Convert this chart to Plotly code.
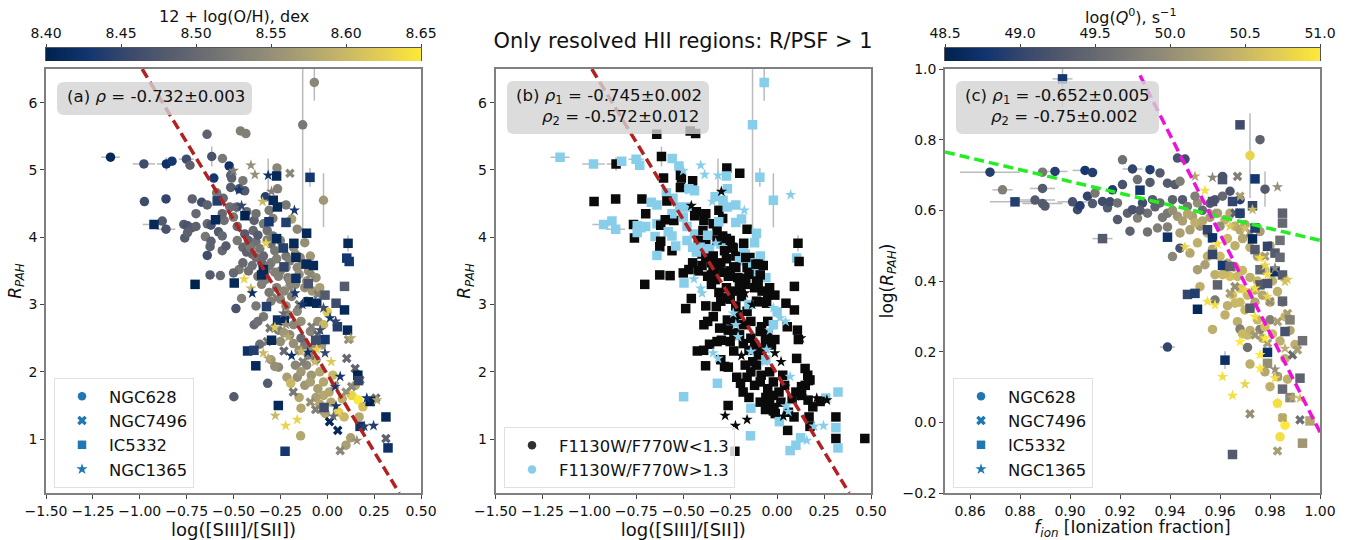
import numpy as np
import plotly.graph_objects as go

# ---------- panels (a) and (b): log([SIII]/[SII]) vs R_PAH ----------
n628_x = [-1.156,-0.978,-0.858,-0.828,-0.751,-0.732,-0.641,-0.616,-0.559,-0.523,-0.463,-0.434,-0.069,-0.131,-0.020,-0.268,
          -0.605,-0.515,-0.510,-0.450,-0.515,-0.470,-0.440,-0.590,-0.555,-0.975,-0.860,-0.720,-0.670,-0.640,-0.330,-0.265,
          -0.220,-0.190,-0.160,-0.700,-0.880,-0.860,-0.765,-0.745,-0.725,-0.760,-0.745,-0.700,-0.640,-0.620,-0.580,-0.560,
          -0.650,-0.620,-0.625,-0.560,-0.540,-0.640,-0.550,-0.500,-0.480,-0.440,-0.420,-0.395,-0.380,-0.340,-0.320,-0.300,
          -0.280,-0.250,-0.220,-0.200,-0.180,-0.145,-0.120,-0.400,-0.380,-0.350,-0.330,-0.300,-0.420,-0.470,-0.500,-0.570,
          -0.625,-0.250,-0.210,-0.160,-0.100,-0.350,-0.310,-0.270,-0.230,-0.170,-0.120,-0.080,-0.457,-0.487,-0.380,-0.340,
          -0.390,-0.370,-0.260,-0.210,-0.200,-0.140,-0.050,0.000,-0.020,-0.360,-0.120,-0.140,-0.100,-0.060,-0.170,-0.260,
          -0.160,-0.215,-0.195,-0.318,-0.498,-0.085,-0.040,-0.120,-0.050,-0.020,0.030,-0.150,-0.140,-0.010,0.060,0.090,
          0.130,0.165,0.190,0.170,0.125,0.100,-0.142,
          -0.480,-0.450,-0.430,-0.410,-0.390,-0.370,-0.360,-0.340,-0.320,-0.310,-0.290,-0.270,-0.260,-0.240,-0.220,-0.200,
          -0.190,-0.170,-0.150,-0.130,-0.110,-0.090,-0.060,-0.040,-0.450,-0.400,-0.370,-0.330,-0.300,-0.280,-0.250,-0.220,
          -0.180,-0.160,-0.110,-0.090,-0.250,-0.230,-0.180,-0.150,-0.110,-0.080,-0.030,-0.300,-0.280,-0.140,-0.090,-0.020,
          0.010,-0.060,-0.040,-0.020,0.020,0.080,0.150,-0.520,-0.560,-0.480,-0.430,-0.380,-0.310,-0.290]
n628_y = [5.19,5.09,5.09,5.13,5.16,5.07,5.53,5.20,5.17,5.06,5.58,5.54,6.30,5.67,4.55,5.03,
          4.88,4.92,4.88,4.84,4.74,4.72,4.69,4.66,4.58,4.53,4.57,4.57,4.52,4.48,4.60,4.72,
          4.48,4.27,4.12,4.35,4.24,4.12,4.19,4.17,4.14,3.99,4.07,4.16,4.20,4.18,4.08,4.02,
          4.01,3.94,3.86,3.80,3.87,3.73,4.25,4.30,4.16,4.05,3.95,4.10,3.93,4.20,4.10,3.90,
          3.80,3.95,3.72,3.65,3.85,3.70,3.92,3.75,3.70,3.62,3.50,3.62,3.50,3.52,3.47,3.43,
          3.44,3.50,3.40,3.55,3.50,3.30,3.18,3.25,3.20,3.30,3.25,3.20,3.09,2.94,2.98,2.82,
          2.70,2.75,2.62,2.85,2.55,2.75,2.75,2.89,2.70,2.41,2.40,2.50,2.25,2.18,2.10,2.07,
          1.92,1.92,1.83,1.83,1.63,1.95,2.00,1.80,1.75,1.65,1.95,1.62,1.46,1.38,1.40,1.33,
          1.65,1.58,1.48,1.33,1.02,0.91,1.05,
          3.95,3.85,3.78,3.85,4.25,4.03,3.83,3.72,3.96,3.58,4.02,3.68,3.42,3.85,3.55,3.35,
          3.12,3.75,3.45,3.62,3.35,3.72,3.40,3.25,3.62,3.58,3.42,3.37,3.05,3.48,3.08,2.98,
          2.70,2.90,3.05,2.60,2.45,2.58,2.42,2.32,2.10,2.35,2.40,2.18,2.08,2.00,1.85,1.85,
          1.70,1.62,1.52,1.42,1.55,1.60,1.80,4.45,4.35,4.45,4.38,4.35,4.40,4.28]
n628_z = [8.41,8.46,8.42,8.43,8.46,8.49,8.49,8.47,8.52,8.42,8.53,8.53,8.54,8.52,8.56,8.54,
          8.43,8.49,8.49,8.52,8.48,8.47,8.48,8.52,8.50,8.46,8.45,8.49,8.46,8.49,8.44,8.53,
          8.52,8.57,8.54,8.50,8.48,8.47,8.48,8.47,8.48,8.48,8.49,8.49,8.50,8.47,8.48,8.50,
          8.52,8.49,8.49,8.50,8.48,8.46,8.51,8.52,8.50,8.48,8.49,8.50,8.51,8.52,8.51,8.51,
          8.52,8.53,8.52,8.53,8.54,8.54,8.55,8.50,8.51,8.50,8.52,8.52,8.51,8.52,8.50,8.50,
          8.48,8.53,8.53,8.54,8.55,8.53,8.52,8.53,8.54,8.54,8.55,8.56,8.53,8.47,8.52,8.52,
          8.50,8.51,8.53,8.54,8.54,8.55,8.55,8.62,8.60,8.51,8.52,8.50,8.53,8.52,8.54,8.54,
          8.55,8.57,8.60,8.48,8.48,8.56,8.58,8.56,8.57,8.58,8.60,8.58,8.58,8.58,8.61,8.60,
          8.63,8.65,8.61,8.58,8.57,8.57,8.58,
          8.52,8.50,8.49,8.52,8.49,8.48,8.52,8.50,8.53,8.52,8.52,8.53,8.53,8.54,8.54,8.54,
          8.53,8.55,8.55,8.55,8.56,8.56,8.55,8.57,8.50,8.51,8.52,8.53,8.53,8.53,8.54,8.55,
          8.54,8.54,8.55,8.54,8.55,8.56,8.55,8.55,8.54,8.55,8.56,8.56,8.55,8.56,8.57,8.58,
          8.58,8.57,8.58,8.57,8.58,8.59,8.58,8.51,8.50,8.49,8.50,8.51,8.52,8.53]
n628_f = [1,1,0,1,1,1,0,0,1,1,0,0,1,1,1,0,
          0,0,0,0,0,1,1,1,1,0,0,0,1,1,1,1,
          1,1,0,0,1,1,0,1,1,0,1,1,1,0,1,1,
          1,0,0,0,1,1,0,1,1,1,0,0,0,0,0,1,
          0,0,0,1,1,0,1,0,0,0,0,0,0,0,0,0,
          0,0,0,0,1,0,0,0,0,0,0,0,0,0,0,0,
          0,0,0,0,0,0,0,1,1,0,0,0,0,1,0,0,
          0,0,0,1,1,0,0,0,0,0,0,0,1,0,0,0,
          0,0,0,0,1,1,1,
          1,1,1,1,0,1,1,0,0,0,0,0,0,0,0,0,
          0,1,0,1,0,1,1,0,0,0,0,0,0,0,0,0,
          0,0,0,0,0,0,0,0,0,0,0,0,0,0,0,0,
          0,0,0,0,0,0,0,1,1,1,0,0,0,0]

n7496_x = [-0.199,-0.306,-0.231,-0.181,-0.062,0.069,0.313,0.259,0.056,0.012,0.104,0.149,0.113,0.175,-0.083,-0.090,
           -0.050,-0.150,-0.200,-0.100,-0.270,-0.320,-0.050,-0.130,0.100,0.130,-0.090,0.040]
n7496_y = [4.95,2.65,2.31,1.70,1.44,0.83,1.01,1.61,1.13,1.26,2.20,2.05,2.48,1.88,2.67,3.44,
           3.15,3.00,3.25,3.60,3.10,2.45,2.55,2.15,1.70,1.78,1.55,1.80]
n7496_z = [8.54,8.52,8.50,8.52,8.53,8.54,8.49,8.50,8.41,8.41,8.50,8.49,8.55,8.54,8.53,8.54,
           8.53,8.52,8.54,8.52,8.53,8.52,8.50,8.53,8.55,8.54,8.55,8.56]
n7496_f = [0,0,0,0,0,1,0,1,0,1,0,0,0,0,0,0,
           0,1,0,0,0,0,0,0,0,0,0,0]

ic5332_x = [-0.924,-0.705,-0.496,-0.587,-0.596,-0.439,-0.270,-0.092,-0.288,-0.266,-0.311,-0.220,-0.110,-0.270,-0.178,0.111,
            0.104,0.117,-0.167,-0.234,-0.113,-0.074,-0.341,-0.231,-0.350,-0.167,-0.324,-0.101,-0.056,0.092,0.047,0.092,
            -0.012,-0.101,-0.265,-0.229,0.108,0.054,-0.297,-0.012,-0.062,-0.425,-0.391,-0.381,0.163,0.167,0.229,-0.261,
            -0.017,0.313,-0.225,0.324,0.175]
ic5332_y = [4.19,3.30,3.32,4.54,4.26,4.32,4.91,4.89,4.55,4.45,4.23,4.22,4.06,3.98,3.91,3.91,
            3.69,3.64,3.70,3.84,3.60,3.58,3.52,3.56,3.44,3.39,2.97,3.04,3.02,3.27,3.02,2.92,
            3.14,3.31,2.77,2.76,2.62,2.67,2.47,2.48,2.47,2.31,2.32,2.09,1.95,1.87,1.56,1.50,
            1.47,1.33,0.82,0.87,1.19]
ic5332_z = [8.41,8.40,8.41,8.44,8.41,8.40,8.41,8.43,8.41,8.41,8.43,8.44,8.41,8.41,8.41,8.41,
            8.43,8.43,8.41,8.44,8.41,8.41,8.41,8.45,8.41,8.42,8.44,8.40,8.41,8.48,8.46,8.41,
            8.48,8.47,8.42,8.41,8.41,8.44,8.41,8.43,8.46,8.42,8.44,8.41,8.40,8.45,8.40,8.41,
            8.46,8.41,8.43,8.42,8.42]
ic5332_f = [1,0,1,0,0,0,1,1,1,1,1,1,1,0,0,0,
            1,0,0,0,0,0,0,0,0,0,0,0,0,0,0,0,
            0,0,0,0,0,0,0,0,0,0,0,0,0,0,0,0,
            0,0,0,1,0]

n1365_x = [-0.407,-0.386,-0.315,-0.500,-0.297,-0.345,-0.175,-0.457,-0.500,-0.470,-0.327,-0.443,-0.407,-0.400,-0.172,-0.133,
           -0.020,0.015,0.045,-0.038,-0.234,-0.220,-0.208,-0.279,0.126,-0.056,-0.012,-0.104,-0.190,-0.140,-0.341,-0.315,
           -0.065,0.021,0.069,0.042,0.211,0.047,0.060,-0.277,-0.222,-0.160,0.197,0.247,0.158,0.033,0.131,0.265]
n1365_y = [5.07,4.93,4.92,4.99,4.68,4.53,4.40,4.47,4.43,4.70,3.91,3.38,3.24,3.17,3.17,3.00,
           2.95,2.80,2.75,2.62,2.87,2.70,2.52,2.66,2.50,2.33,2.28,2.29,2.24,2.30,2.28,2.20,
           2.15,2.15,1.93,1.78,1.61,1.49,1.41,1.35,1.20,1.29,1.19,1.20,0.98,1.34,1.64,1.58]
n1365_z = [8.55,8.55,8.42,8.53,8.53,8.60,8.43,8.45,8.50,8.43,8.63,8.63,8.60,8.42,8.43,8.43,
           8.46,8.43,8.45,8.46,8.50,8.55,8.58,8.62,8.58,8.63,8.45,8.42,8.42,8.60,8.60,8.58,
           8.60,8.62,8.43,8.43,8.43,8.43,8.63,8.60,8.63,8.63,8.44,8.44,8.55,8.50,8.63,8.58]
n1365_f = [1,1,1,1,0,1,1,0,1,1,1,1,1,1,0,0,
           1,1,1,1,1,1,1,0,0,1,0,0,0,1,1,1,
           1,0,1,0,0,1,1,0,0,0,1,1,1,0,0,0]

# points seen only in panel (b)
extra_b_x = [0.467,0.324,0.313]
extra_b_y = [1.01,1.70,1.17]
extra_b_f = [0,1,1]
extra_b_star_x = [0.072]
extra_b_star_y = [4.63]
extra_b_star_f = [1]

err_x = [-1.156,-0.978,-0.858,-0.751,-0.616,-0.069,-0.131,-0.020,-0.315,-0.924,-0.860,0.111,-0.092]
err_y = [5.19,5.09,5.09,5.16,5.20,6.30,5.67,4.55,4.92,4.19,4.12,3.91,4.89]
err_dx = [0.05,0.06,0.05,0.04,0.02,0.01,0.0,0.0,0.0,0.06,0.05,0.0,0.0]
err_dy = [0.0,0.0,0.10,0.0,0.15,0.27,1.62,0.40,0.25,0.0,0.0,0.12,0.14]

# ---------- panel (c): f_ion vs log(R_PAH) ----------
c628_x = [0.868,0.873,0.889,0.894,0.906,0.909,0.889,0.886,0.889,0.890,0.901,0.903,0.904,0.907,0.909,0.910,
          0.913,0.915,0.916,0.917,0.919,0.921,0.921,0.925,0.932,0.936,0.927,0.932,0.924,0.931,0.935,0.939,
          0.941,0.944,0.943,0.946,0.939,0.942,0.944,0.919,0.923,0.925,0.927,0.929,0.931,0.933,0.936,0.939,
          0.941,0.943,0.945,0.947,0.949,0.951,0.952,0.948,0.944,0.961,0.964,0.961,0.958,0.968,0.972,0.976,
          0.978,0.962,0.966,0.968,0.959,0.964,0.955,0.951,0.948,0.951,0.954,0.958,0.961,0.964,0.967,0.952,
          0.957,0.962,0.967,0.968,0.971,0.972,0.939,0.971,0.977,0.976,0.978,0.983,0.987,0.983,0.985,0.986,
          0.984,0.980,0.966,0.970,0.974,0.980,0.986,0.968,0.958,0.962,
          0.950,0.953,0.956,0.960,0.963,0.966,0.969,0.972,0.975,0.978,0.981,0.983,0.985,0.988,0.990,0.960,
          0.957,0.955,0.963,0.966,0.969,0.972,0.975,0.977,0.980,0.974,0.971,0.968,0.965,0.963,0.975,0.978,
          0.972,0.969,0.981,0.984,0.986,0.953,0.950,0.947,0.945,0.941,0.937,0.934,0.928,0.956,0.968,0.970,0.976,0.980]
c628_y = [0.708,0.658,0.708,0.710,0.713,0.707,0.662,0.629,0.619,0.612,0.624,0.602,0.613,0.640,0.619,0.649,
          0.625,0.607,0.624,0.658,0.574,0.743,0.673,0.717,0.715,0.706,0.687,0.679,0.541,0.539,0.550,0.553,
          0.469,0.493,0.748,0.745,0.677,0.673,0.682,0.621,0.592,0.602,0.578,0.621,0.592,0.630,0.621,0.592,
          0.630,0.583,0.630,0.611,0.583,0.621,0.555,0.545,0.536,0.696,0.654,0.640,0.630,0.630,0.755,0.800,
          0.660,0.574,0.555,0.545,0.592,0.592,0.536,0.508,0.479,0.432,0.446,0.418,0.418,0.413,0.413,0.384,
          0.263,0.304,0.285,0.264,0.212,0.165,0.213,0.247,0.238,0.263,0.143,0.129,0.122,0.054,0.013,-0.008,
          -0.041,0.101,0.337,0.318,0.374,0.290,0.299,0.379,0.346,0.422,
          0.640,0.600,0.580,0.555,0.520,0.500,0.520,0.495,0.470,0.430,0.400,0.370,0.340,0.260,0.220,0.470,
          0.490,0.470,0.450,0.440,0.430,0.410,0.400,0.360,0.340,0.340,0.360,0.340,0.360,0.330,0.290,0.270,
          0.260,0.250,0.250,0.230,0.180,0.570,0.565,0.590,0.570,0.600,0.580,0.610,0.600,0.620,0.590,0.560,0.540,0.500]
c628_z = [48.9,49.8,49.7,48.9,48.8,48.9,49.3,49.3,49.3,49.3,49.2,49.1,48.9,49.0,49.3,49.7,
          49.1,49.3,49.1,48.9,49.3,49.6,49.2,49.0,48.9,49.3,49.6,49.3,49.4,49.6,49.8,49.8,
          49.9,49.2,49.2,49.1,49.3,49.3,49.8,49.6,49.4,49.2,49.8,49.1,49.6,49.3,49.5,49.7,
          49.4,50.1,49.3,49.7,50.2,50.0,50.1,50.2,50.2,49.2,49.2,49.5,49.3,48.9,50.8,49.4,
          49.3,50.4,50.4,50.3,50.2,50.3,50.4,50.4,50.3,50.2,50.2,50.4,50.5,50.6,50.5,50.4,
          50.4,50.4,50.4,49.8,49.6,50.4,49.0,50.5,50.3,49.8,50.3,50.0,50.4,50.9,50.5,51.0,
          50.9,50.4,50.5,50.5,50.4,49.8,50.5,50.7,49.7,50.5,
          49.8,49.5,50.2,50.0,50.5,50.4,50.3,50.4,50.2,50.5,50.4,50.4,50.3,50.3,50.4,50.5,
          50.3,50.4,50.3,50.4,50.5,50.4,50.5,50.3,50.4,50.3,50.5,50.5,50.6,50.4,50.5,50.6,
          50.4,50.5,50.5,50.4,50.4,50.3,50.4,50.3,50.2,50.0,49.7,49.4,49.3,49.4,49.6,50.3,50.2,50.3]

c7496_x = [0.972,0.983,0.992,0.985,0.967,0.980,0.964,0.983,0.987,0.989,0.991,0.983,0.979,0.974,0.978,0.966,
           0.968,0.957,0.966,0.972,0.978]
c7496_y = [0.024,-0.081,0.007,0.013,0.696,0.342,0.365,0.285,0.308,0.191,0.205,0.129,0.224,0.247,0.393,0.384,
           0.640,0.592,0.592,0.536,0.470]
c7496_z = [50.0,50.2,49.6,50.3,49.8,50.0,50.2,50.2,50.2,49.5,50.2,50.2,50.2,50.1,49.4,50.0,
           50.2,50.1,49.4,50.0,50.2]

c5332_x = [0.897,0.878,0.913,0.928,0.939,0.968,0.974,0.985,0.985,0.984,0.973,0.979,0.982,0.984,0.973,0.968,
           0.965,0.957,0.961,0.955,0.957,0.957,0.961,0.964,0.976,0.974,0.974,0.947,0.950,0.951,0.959,0.972,
           0.976,0.979,0.985,0.988,0.986,0.993,0.979,0.962,0.985,0.992,0.988,0.993,0.996,0.965,0.979,0.982,0.985]
c5332_y = [0.972,0.624,0.520,0.657,0.524,0.842,0.689,0.592,0.564,0.515,0.519,0.498,0.479,0.467,0.613,0.592,
           0.625,0.625,0.687,0.545,0.522,0.475,0.444,0.441,0.432,0.550,0.489,0.362,0.365,0.320,0.389,0.323,
           0.389,0.393,0.343,0.290,0.257,0.231,0.198,0.176,0.094,0.125,0.070,-0.059,0.004,-0.091,0.167,0.426,0.417]
c5332_z = [48.8,48.9,49.3,48.8,48.7,49.1,48.8,49.4,49.5,49.6,48.6,49.0,49.3,49.5,49.0,48.9,
           49.0,49.2,49.2,49.0,48.7,49.0,48.8,49.4,49.5,48.9,49.3,49.0,48.9,48.6,49.4,49.3,
           49.3,49.2,49.4,49.8,49.2,49.6,48.7,48.7,49.5,49.4,49.9,50.1,50.3,49.3,50.0,48.7,49.3]

c1365_x = [0.957,0.954,0.983,0.950,0.946,0.959,0.973,0.976,0.978,0.982,0.979,0.987,0.964,0.970,0.955,0.958,
           0.968,0.976,0.976,0.961,0.970,0.965,0.982,0.982,0.989,0.992,0.986,0.978,0.979,0.986,0.974,0.970,0.974,0.983]
c1365_y = [0.693,0.656,0.666,0.696,0.496,0.505,0.602,0.465,0.444,0.437,0.418,0.404,0.555,0.550,0.342,0.332,
           0.228,0.191,0.153,0.129,0.108,0.076,0.125,0.150,0.070,0.068,0.209,0.238,0.356,0.398,0.379,0.375,0.299,0.054]
c1365_z = [49.9,50.9,50.0,50.3,50.8,50.9,50.5,50.9,50.8,49.9,50.9,50.7,50.7,50.6,50.9,50.9,
           51.0,51.0,51.0,50.9,50.8,50.9,50.9,50.0,50.3,50.6,50.4,51.0,50.8,50.6,50.9,50.8,50.9,50.9]

cerr_x = [0.868,0.873,0.889,0.886,0.878,0.889,0.894,0.906,0.909,0.897,0.913,0.901,0.972,0.978,0.939,0.962,0.925]
cerr_y = [0.708,0.658,0.662,0.629,0.624,0.619,0.710,0.713,0.707,0.972,0.520,0.624,0.755,0.660,0.213,0.176,0.717]
cerr_dx = [0.012,0.004,0.005,0.008,0.010,0.008,0.005,0.005,0.002,0.004,0.004,0.006,0.0,0.0,0.003,0.0,0.004]
cerr_dy = [0.0,0.0,0.0,0.0,0.0,0.0,0.0,0.0,0.0,0.08,0.0,0.0,0.12,0.05,0.0,0.025,0.0]

# fit lines
fit_a_x = [-0.987, 0.384]
fit_a_y = [6.5, 0.2]
fit_c1_x = [0.85, 1.0]
fit_c1_y = [0.765, 0.515]
fit_c2_x = [0.928, 1.0]
fit_c2_y = [0.982, -0.028]

names = ["NGC628", "NGC7496", "IC5332", "NGC1365"]
symbols = ["circle", "x", "square", "star"]
sizes = [9.5, 8.5, 9.5, 8.5]
W, H = 1361, 540
GRAY = "#808080"
BLUE = "#1f77b4"
FONT = "DejaVu Sans"
SKY = "#87ceeb"
DARK = "#0a0a0a"
TXT = "#111"


def px(v):
    return v / W


def py(v):
    return 1 - v / H


fig = go.Figure()


def add_err(xa, ya, x, y, dx, dy):
    fig.add_trace(go.Scatter(x=x, y=y, xaxis=xa, yaxis=ya, mode="markers", showlegend=False,
                             marker=dict(size=1, color="rgba(0,0,0,0)"),
                             error_x=dict(type="data", array=dx, width=0, thickness=1.5, color="rgba(120,120,120,0.5)"),
                             error_y=dict(type="data", array=dy, width=0, thickness=1.5, color="rgba(120,120,120,0.5)")))


add_err("x", "y", err_x, err_y, err_dx, err_dy)
add_err("x2", "y2", err_x, err_y, err_dx, err_dy)
add_err("x3", "y3", cerr_x, cerr_y, cerr_dx, cerr_dy)

# panel a
for (x, y, z), sym, s in zip([(n628_x, n628_y, n628_z), (n7496_x, n7496_y, n7496_z),
                              (ic5332_x, ic5332_y, ic5332_z), (n1365_x, n1365_y, n1365_z)], symbols, sizes):
    fig.add_trace(go.Scatter(x=x, y=y, xaxis="x", yaxis="y", mode="markers", showlegend=False,
                             marker=dict(symbol=sym, size=s, color=z, coloraxis="coloraxis", line=dict(width=0))))

# panel b: round markers read as squares there
for (x, y, f), sym, s in zip([(n628_x, n628_y, n628_f), (n7496_x, n7496_y, n7496_f),
                              (ic5332_x, ic5332_y, ic5332_f), (n1365_x, n1365_y, n1365_f),
                              (extra_b_x, extra_b_y, extra_b_f), (extra_b_star_x, extra_b_star_y, extra_b_star_f)],
                             ["square", "square", "square", "star", "square", "star"], [9.5, 9.5, 9.5, 8.5, 9.5, 8.5]):
    fig.add_trace(go.Scatter(x=x, y=y, xaxis="x2", yaxis="y2", mode="markers", showlegend=False,
                             marker=dict(symbol=sym, size=s, color=[SKY if v else DARK for v in f], line=dict(width=0))))

# panel c
for (x, y, z), sym, s in zip([(c628_x, c628_y, c628_z), (c7496_x, c7496_y, c7496_z),
                              (c5332_x, c5332_y, c5332_z), (c1365_x, c1365_y, c1365_z)], symbols, sizes):
    fig.add_trace(go.Scatter(x=x, y=y, xaxis="x3", yaxis="y3", mode="markers", showlegend=False,
                             marker=dict(symbol=sym, size=s, color=z, coloraxis="coloraxis2", line=dict(width=0))))

# colour ramps on their own axes, so the tick labels can sit above the bar
for xa, ya, ca, lo, hi in [("x4", "y4", "coloraxis", 8.40, 8.65), ("x5", "y5", "coloraxis2", 48.5, 51.0)]:
    ramp = np.linspace(lo, hi, 256)
    fig.add_trace(go.Heatmap(x=ramp, y=[0, 1], z=[ramp, ramp], xaxis=xa, yaxis=ya, coloraxis=ca, hoverinfo="skip"))

# fit lines
line_kw = dict(mode="lines", showlegend=False)
dash = "10px,5px"
fig.add_trace(go.Scatter(x=fit_a_x, y=fit_a_y, xaxis="x", yaxis="y", line=dict(color="#b22222", width=3.5, dash=dash), **line_kw))
fig.add_trace(go.Scatter(x=fit_a_x, y=fit_a_y, xaxis="x2", yaxis="y2", line=dict(color="#b22222", width=3.5, dash=dash), **line_kw))
fig.add_trace(go.Scatter(x=fit_c1_x, y=fit_c1_y, xaxis="x3", yaxis="y3", line=dict(color="#22ee22", width=3.5, dash=dash), **line_kw))
fig.add_trace(go.Scatter(x=fit_c2_x, y=fit_c2_y, xaxis="x3", yaxis="y3", line=dict(color="#ee11dd", width=3.5, dash=dash), **line_kw))

# legends
for leg, xa, ya in [("legend", "x", "y"), ("legend3", "x3", "y3")]:
    for n, sym in zip(names, symbols):
        fig.add_trace(go.Scatter(x=[None], y=[None], xaxis=xa, yaxis=ya, mode="markers", name=n, legend=leg,
                                 legendgroup=leg + n,
                                 marker=dict(symbol=sym, size=8.5, color=BLUE, line=dict(width=0))))
for n, c in [("F1130W/F770W<1.3", "#303030"), ("F1130W/F770W>1.3", SKY)]:
    fig.add_trace(go.Scatter(x=[None], y=[None], xaxis="x2", yaxis="y2", mode="markers", name=n, legend="legend2",
                             legendgroup="b" + n, marker=dict(symbol="circle", size=8.5, color=c, line=dict(width=0))))

leg_common = dict(bgcolor="rgba(255,255,255,0.8)", bordercolor="#e0e0e0", borderwidth=1,
                  font=dict(family=FONT, size=16.4, color=TXT), itemwidth=44, tracegroupgap=5,
                  xanchor="left", yanchor="top", traceorder="normal", itemclick=False)


def axis(dom, rng, tick0, dtick, fmt, anchor):
    return dict(domain=dom, range=rng, tick0=tick0, dtick=dtick, tickformat=fmt, anchor=anchor,
                showgrid=False, zeroline=False, mirror=True, showline=True, linecolor=GRAY, linewidth=1.5,
                ticks="outside", ticklen=4, tickwidth=1, tickcolor="#444", automargin=False,
                tickfont=dict(family=FONT, size=14, color=TXT))


ydom = [py(493), py(69)]


def xt(text, size=18):
    return dict(text=text, font=dict(family=FONT, size=size, color=TXT), standoff=1)


def yt(text, st):
    return dict(text=text, font=dict(family=FONT, size=17, color=TXT), standoff=st)


def ramp_x(dom, rng, dtick, fmt, anchor):
    return dict(axis(dom, rng, rng[0], dtick, fmt, anchor), side="top", mirror=False,
                linecolor="#555", linewidth=1, ticklen=3)


def ramp_y(anchor):
    return dict(domain=[py(61), py(48)], range=[0, 1], anchor=anchor, showticklabels=False, ticks="",
                showgrid=False, zeroline=False, showline=True, mirror=True, linecolor="#555", linewidth=1)


fig.update_layout(
    width=W, height=H, margin=dict(l=0, r=0, t=0, b=0, autoexpand=False),
    paper_bgcolor="white", plot_bgcolor="white", font=dict(family=FONT, color=TXT),
    title=dict(text="Only resolved HII regions: R/PSF > 1", x=px(683), y=py(41), xanchor="center", yanchor="middle",
               font=dict(family=FONT, size=20.9, color=TXT)),
    xaxis=dict(axis([px(46), px(421)], [-1.5, 0.5], -1.5, 0.25, ".2f", "y"), title=xt("log([SIII]/[SII])")),
    yaxis=dict(axis(ydom, [0.2, 6.5], 1, 1, "d", "x"), title=yt("<i>R<sub>PAH</sub></i>", 3)),
    xaxis2=dict(axis([px(495.5), px(871)], [-1.5, 0.5], -1.5, 0.25, ".2f", "y2"), title=xt("log([SIII]/[SII])")),
    yaxis2=dict(axis(ydom, [0.2, 6.5], 1, 1, "d", "x2"), title=yt("<i>R<sub>PAH</sub></i>", 3)),
    xaxis3=dict(axis([px(945), px(1320)], [0.85, 1.0], 0.86, 0.02, ".2f", "y3"), title=xt("<i>f<sub>ion</sub></i> [Ionization fraction]", 17)),
    yaxis3=dict(axis(ydom, [-0.2, 1.0], -0.2, 0.2, ".1f", "x3"), title=yt("log(<i>R<sub>PAH</sub></i>)", 5)),
    xaxis4=ramp_x([px(46), px(421)], [8.40, 8.65], 0.05, ".2f", "y4"),
    yaxis4=ramp_y("x4"),
    xaxis5=ramp_x([px(945), px(1320)], [48.5, 51.0], 0.5, ".1f", "y5"),
    yaxis5=ramp_y("x5"),
    coloraxis=dict(colorscale="Cividis", cmin=8.40, cmax=8.65, showscale=False),
    coloraxis2=dict(colorscale="Cividis", cmin=48.5, cmax=51.0, showscale=False),
    legend=dict(leg_common, x=px(54), y=py(378)),
    legend2=dict(leg_common, x=px(504), y=py(427)),
    legend3=dict(leg_common, x=px(953), y=py(378)),
)


def rounded(x0, y0, x1, y1, r=7):
    xs0, xs1 = px(x0), px(x1)
    ys0, ys1 = py(y0), py(y1)
    rx, ry = r / W, r / H
    return (f"M{xs0+rx},{ys0} L{xs1-rx},{ys0} Q{xs1},{ys0} {xs1},{ys0-ry} L{xs1},{ys1+ry} "
            f"Q{xs1},{ys1} {xs1-rx},{ys1} L{xs0+rx},{ys1} Q{xs0},{ys1} {xs0},{ys1+ry} L{xs0},{ys0-ry} Q{xs0},{ys0} {xs0+rx},{ys0} Z")


for box in [(57, 82, 252, 115), (507, 81, 709, 134), (956, 81, 1159, 134)]:
    fig.add_shape(type="path", path=rounded(*box), xref="paper", yref="paper", layer="above",
                  fillcolor="rgba(211,211,211,0.8)", line=dict(width=0))

notes = [
    ("(a) <i>ρ</i> = -0.732±0.003", 65, 97),
    ("(b) <i>ρ</i><sub>1</sub> = -0.745±0.002", 514, 97),
    ("<i>ρ</i><sub>2</sub> = -0.572±0.012", 540, 117),
    ("(c) <i>ρ</i><sub>1</sub> = -0.652±0.005", 963, 97),
    ("<i>ρ</i><sub>2</sub> = -0.75±0.002", 989, 117),
]
for text, x, y in notes:
    fig.add_annotation(text=text, x=px(x), y=py(y), xref="paper", yref="paper", xanchor="left", yanchor="middle",
                       showarrow=False, font=dict(family=FONT, size=16.6, color=TXT))

for text, x, y in [("12 + log(O/H), dex", 234, 17), ("log(<i>Q</i><sup>0</sup>), s<sup>−1</sup>", 1131, 16)]:
    fig.add_annotation(text=text, x=px(x), y=py(y), xref="paper", yref="paper", xanchor="center", yanchor="middle",
                       showarrow=False, font=dict(family=FONT, size=16, color=TXT))

fig.write_html("out.html", post_script="document.body.style.margin='0';", config=dict(displayModeBar=False))
